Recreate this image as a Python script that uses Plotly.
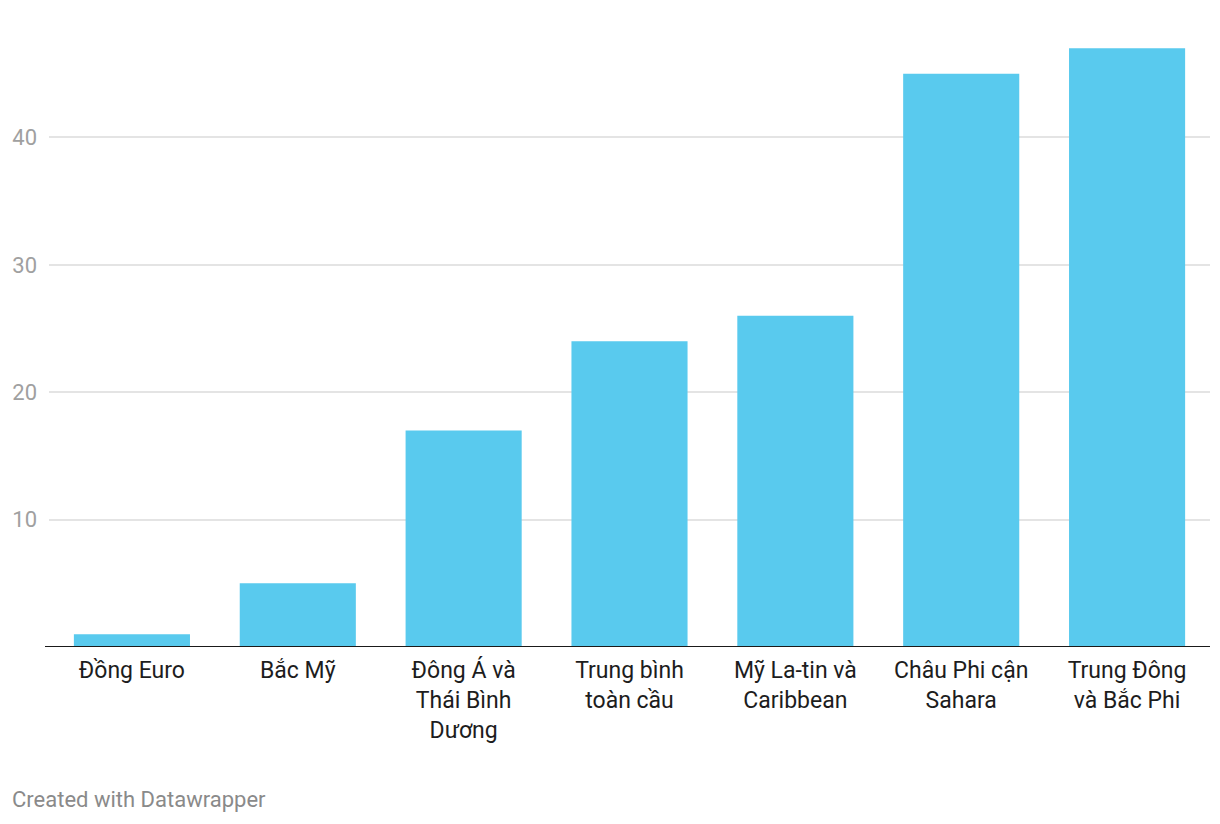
import plotly.graph_objects as go

categories = [
    "Đồng Euro",
    "Bắc Mỹ",
    "Đông Á và<br>Thái Bình<br>Dương",
    "Trung bình<br>toàn cầu",
    "Mỹ La-tin và<br>Caribbean",
    "Châu Phi cận<br>Sahara",
    "Trung Đông<br>và Bắc Phi",
]
values = [1, 5, 17, 24, 26, 45, 47]
y_ticks = [10, 20, 30, 40]
y_tick_labels = ["10", "20", "30", "40"]

# the page renders the figure with an 8px body offset; compensate in margins
W, H = 1220, 824
ml, mr, mt, mb = 41, 18, 2, 184.5
plot_h = H - mt - mb

fig = go.Figure(
    go.Bar(
        x=categories,
        y=values,
        marker=dict(color="#59caee", line=dict(width=0)),
        hoverinfo="skip",
    )
)

fig.update_layout(
    width=W,
    height=H,
    margin=dict(l=ml, r=mr, t=mt, b=mb, pad=0),
    paper_bgcolor="white",
    plot_bgcolor="white",
    bargap=0.3,
    showlegend=False,
    font=dict(family="Roboto", size=23, color="#1d1d1d"),
    xaxis=dict(
        showgrid=False,
        zeroline=False,
        showline=False,
        ticks="",
        tickfont=dict(family="Roboto", size=23, color="#1d1d1d"),
        ticklabelstandoff=7,
    ),
    yaxis=dict(
        range=[0, 50],
        tickvals=y_ticks,
        ticktext=y_tick_labels,
        showgrid=True,
        gridcolor="#e4e4e4",
        gridwidth=1.5,
        zeroline=False,
        showline=False,
        ticks="",
        ticklabelstandoff=11,
        tickfont=dict(family="Roboto", size=22, color="#a0a0a0"),
    ),
    shapes=[
        dict(
            type="line",
            xref="paper",
            yref="y",
            x0=-4 / (W - ml - mr),
            x1=1,
            y0=0,
            y1=0,
            line=dict(color="#1a1a1a", width=2),
            layer="above",
        )
    ],
    annotations=[
        dict(
            text="Created with Datawrapper",
            xref="paper",
            yref="paper",
            x=0,
            xshift=-(ml - 2),
            xanchor="left",
            y=(H - mb - (800 - 8)) / plot_h,
            yanchor="middle",
            showarrow=False,
            font=dict(family="Roboto", size=22, color="#8a8a8a"),
        )
    ],
)

fig.write_html("out.html")
